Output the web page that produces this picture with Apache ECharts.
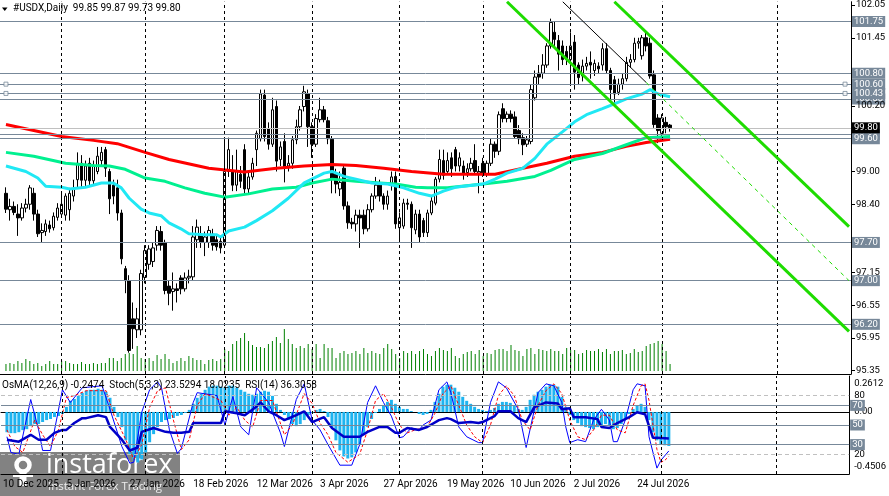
<!DOCTYPE html>
<html>
<head>
<meta charset="utf-8">
<script src="https://cdn.jsdelivr.net/npm/echarts@6.0.0/dist/echarts.min.js"></script>
<style>
html,body{margin:0;padding:0;background:#fff;}
#chart{width:889px;height:496px;}
</style>
</head>
<body>
<div id="chart"></div>
<script>
// ---------------- DATA (bar index i = 0..167) ----------------
const open = [98.60,98.30,98.36,98.22,98.15,98.33,98.40,98.60,98.22,97.88,
97.90,98.02,97.97,98.16,98.22,98.20,98.30,98.55,98.85,99.15,
98.84,99.15,98.83,99.00,99.20,99.40,99.00,98.75,98.70,98.24,
97.22,97.00,96.30,96.10,96.10,97.06,97.30,97.35,97.65,97.90,
97.70,96.90,96.80,96.85,97.05,96.85,97.05,97.07,97.75,97.85,
97.70,97.70,97.85,97.75,97.72,97.65,99.00,99.00,98.75,98.95,
99.40,98.68,98.90,99.40,99.60,100.40,99.78,99.50,100.19,99.22,
99.55,99.10,99.15,99.58,99.82,100.19,100.42,99.82,99.50,99.95,
100.13,99.93,99.59,98.95,98.68,99.06,98.37,98.07,98.04,98.20,
98.20,97.95,98.30,98.55,98.75,98.55,98.40,98.75,98.91,97.97,
98.00,98.42,98.40,97.93,98.22,98.10,97.88,98.24,98.42,98.86,
99.20,99.00,99.25,99.40,99.10,99.10,98.98,99.05,99.20,98.97,
99.15,98.95,99.15,99.50,99.37,100.15,99.97,100.05,100.00,99.75,
99.62,99.50,99.55,100.35,100.80,100.80,100.95,101.30,101.55,101.40,
101.30,101.20,101.05,101.37,100.95,100.75,100.93,101.00,100.85,100.93,
100.95,101.25,100.85,100.68,100.45,100.60,100.70,101.00,101.05,101.35,
101.12,101.45,101.35,100.77,99.98,99.70,99.90,99.85];
const high = [98.71,98.50,98.45,98.40,98.42,98.50,98.75,98.70,98.30,98.05,
98.12,98.10,98.25,98.42,98.62,98.60,98.70,98.85,99.35,99.30,
99.20,99.25,99.20,99.45,99.45,99.45,99.05,98.85,98.85,98.30,
97.27,97.10,96.60,96.50,97.20,97.65,97.65,97.70,98.00,98.00,
97.75,97.00,97.15,96.95,97.10,97.15,97.20,98.00,98.12,98.00,
97.90,98.00,97.95,97.85,97.80,99.60,99.62,99.30,99.40,99.10,
99.50,99.00,99.25,99.75,100.50,100.50,99.90,100.35,100.30,99.55,
99.70,99.30,99.65,99.95,100.20,100.57,100.50,99.90,100.05,100.35,
100.20,100.00,99.65,99.05,99.00,99.10,98.45,98.15,98.30,98.30,
98.30,98.40,98.60,98.90,98.85,98.60,98.65,99.00,99.00,98.25,
98.50,98.50,98.45,98.30,98.30,98.15,98.30,98.55,98.90,99.40,
99.40,99.35,99.35,99.45,99.35,99.20,99.15,99.25,99.50,99.10,
99.25,99.20,99.60,99.55,100.10,100.25,100.10,100.12,100.10,99.85,
99.70,99.65,100.60,100.85,100.95,101.15,101.35,101.80,101.75,101.50,
101.40,101.30,101.55,101.50,101.00,101.05,101.10,101.20,101.05,101.00,
101.35,101.35,100.90,100.75,100.70,100.80,101.10,101.15,101.45,101.45,
101.50,101.55,101.45,100.85,100.05,100.05,100.00,99.87];
const low = [98.24,98.10,98.20,97.82,98.10,98.25,98.30,98.10,97.80,97.70,
97.82,97.88,97.92,98.10,98.15,98.10,98.10,98.45,98.70,98.70,
98.72,98.72,98.75,98.95,99.10,98.90,98.22,98.40,98.10,97.30,
96.77,95.68,95.75,95.95,96.00,96.95,97.20,97.25,97.55,97.55,
96.75,96.55,96.45,96.60,96.75,96.80,96.95,97.00,97.60,97.60,
97.45,97.60,97.55,97.55,97.50,97.60,98.90,98.64,98.64,98.70,
98.60,98.60,98.85,99.10,99.55,99.55,99.40,99.45,99.00,99.10,
98.80,99.00,99.05,99.50,99.75,100.10,99.45,99.25,99.45,99.90,
99.90,99.50,98.60,98.60,98.55,98.30,97.95,97.95,97.90,97.60,
97.85,97.90,98.25,98.50,98.45,98.30,98.30,98.65,97.95,97.70,
97.95,98.30,97.60,97.85,97.70,97.80,97.80,98.20,98.38,98.80,
98.85,98.95,98.90,99.00,99.00,98.85,98.90,99.00,98.95,98.60,
98.90,98.90,99.10,99.25,99.30,99.90,99.90,99.90,99.60,99.50,
99.30,99.45,99.50,100.30,100.60,100.70,100.90,101.25,101.30,100.85,
100.95,100.95,100.60,100.50,100.60,100.65,100.85,100.70,100.75,100.80,
100.85,100.80,100.28,100.25,100.40,100.50,100.65,100.90,101.00,101.25,
101.05,101.20,100.70,99.80,99.52,99.60,99.70,99.73];
const close = [98.31,98.36,98.25,98.15,98.33,98.40,98.70,98.22,97.86,97.92,
98.04,97.95,98.18,98.33,98.40,98.55,98.60,98.67,99.15,98.84,
99.10,98.83,99.10,99.28,99.35,99.06,98.50,98.55,98.24,97.40,
97.00,95.72,96.12,96.30,97.13,97.55,97.58,97.60,97.92,97.65,
96.82,96.77,96.85,96.82,96.85,97.05,97.08,97.80,97.98,97.70,
97.80,97.92,97.65,97.62,97.60,99.00,99.40,98.75,99.00,98.82,
98.68,98.90,99.15,99.70,100.42,99.64,99.50,100.13,99.19,99.45,
99.06,99.15,99.58,99.82,100.13,100.46,99.82,99.50,99.97,100.13,
99.95,99.60,98.86,98.77,98.80,98.37,98.06,98.04,98.20,98.15,
97.95,98.30,98.55,98.75,98.55,98.40,98.55,98.90,98.04,98.15,
98.42,98.40,97.97,98.22,97.80,97.88,98.24,98.46,98.86,99.22,
98.93,99.20,99.05,99.10,99.25,98.95,99.05,99.15,99.00,99.00,
98.95,99.15,99.50,99.37,100.04,99.97,100.05,99.97,99.64,99.60,
99.49,99.58,100.50,100.73,100.73,100.95,101.30,101.73,101.42,101.15,
101.05,101.05,101.30,100.82,100.72,100.93,100.98,100.95,100.98,100.88,
101.25,100.85,100.50,100.42,100.60,100.70,101.00,101.05,101.35,101.38,
101.45,101.30,100.75,99.86,99.75,99.98,99.82,99.80];
const volume = [7,8,7,10,8,12,10,7,8,5,
7,10,7,7,10,10,8,7,7,9,
7,7,8,7,8,8,13,13,10,13,
17,18,17,25,13,12,13,10,16,12,
17,12,8,10,13,10,15,13,11,11,
7,11,12,10,12,22,20,27,30,33,
38,30,26,24,24,23,27,30,34,28,
42,32,27,23,25,23,27,22,27,13,
27,23,23,13,18,20,17,18,20,17,
23,18,20,18,17,23,27,22,17,13,
20,18,20,17,20,22,17,15,20,23,
21,20,23,15,13,17,19,20,17,21,
15,18,17,21,22,22,20,26,21,20,
15,22,23,17,22,21,20,22,20,20,
17,23,21,21,17,18,21,20,20,22,
19,22,17,20,20,21,17,18,22,19,
20,25,27,28,30,27,20,7];
const osma = [-0.147,-0.154,-0.154,-0.147,-0.132,-0.125,-0.103,-0.088,-0.088,-0.073,
-0.059,-0.051,-0.037,-0.029,-0.015,0.037,0.081,0.095,0.117,0.139,
0.154,0.161,0.161,0.169,0.161,0.147,0.103,0.037,-0.037,-0.110,
-0.206,-0.308,-0.352,-0.367,-0.345,-0.294,-0.220,-0.161,-0.110,-0.073,
-0.059,-0.051,-0.044,-0.029,-0.022,-0.007,0.015,0.059,0.103,0.132,
0.161,0.184,0.191,0.191,0.184,0.176,0.191,0.191,0.176,0.161,
0.147,0.132,0.125,0.132,0.147,0.154,0.147,0.117,0.059,0.015,
-0.022,-0.059,-0.088,-0.103,-0.088,-0.059,-0.022,-0.007,0.015,0.022,
0.007,-0.037,-0.110,-0.206,-0.279,-0.323,-0.338,-0.330,-0.294,-0.235,
-0.161,-0.110,-0.051,-0.007,0.022,0.051,0.073,0.088,0.059,0.037,
0.022,0.022,0.007,0.000,-0.015,-0.022,-0.015,0.015,0.073,0.132,
0.184,0.198,0.198,0.176,0.147,0.110,0.081,0.059,0.037,0.022,
0.015,0.007,0.015,0.029,0.059,0.073,0.073,0.066,0.044,0.022,
0.015,0.037,0.088,0.125,0.147,0.161,0.184,0.198,0.198,0.184,
0.110,0.037,-0.022,-0.059,-0.081,-0.103,-0.110,-0.117,-0.125,-0.110,
-0.095,-0.088,-0.103,-0.125,-0.117,-0.088,-0.051,-0.015,0.022,0.044,
0.059,0.037,-0.059,-0.147,-0.206,-0.235,-0.242,-0.247];

// moving averages read at points [bar, value]
const maRed = [[0,99.86],[14,99.64],[22,99.57],[28,99.51],[35,99.35],[41,99.22],[51,99.06],[60,98.99],[68,99.06],[75,99.10],[82,99.13],[88,99.11],[95,99.06],[102,99.00],[110,98.95],[123,98.95],[130,99.06],[136,99.15],[143,99.28],[150,99.35],[156,99.46],[161,99.53],[167,99.59]];
const maGreen = [[0,99.35],[7,99.28],[15,99.15],[22,99.11],[26,99.10],[30,99.04],[35,98.88],[40,98.82],[45,98.70],[50,98.60],[55,98.53],[61,98.59],[67,98.68],[73,98.71],[77,98.79],[82,98.86],[88,98.82],[94,98.79],[98,98.77],[103,98.71],[106,98.70],[111,98.70],[120,98.77],[126,98.82],[133,98.91],[137,99.02],[143,99.22],[150,99.33],[156,99.49],[161,99.62],[167,99.64]];
const maCyan = [[0,99.10],[5,99.00],[8,98.88],[10,98.73],[14,98.71],[16,98.68],[20,98.71],[24,98.79],[27,98.79],[29,98.70],[31,98.51],[34,98.31],[36,98.24],[39,98.19],[41,98.06],[44,97.95],[46,97.86],[50,97.84],[53,97.84],[54,97.80],[56,97.91],[60,97.98],[63,98.10],[67,98.28],[71,98.51],[75,98.79],[80,98.97],[82,99.00],[85,98.91],[88,98.86],[92,98.79],[96,98.77],[100,98.70],[104,98.60],[107,98.55],[110,98.64],[113,98.71],[120,98.77],[123,98.86],[126,98.97],[130,99.06],[133,99.24],[136,99.50],[140,99.73],[143,99.91],[146,100.04],[150,100.15],[153,100.24],[156,100.33],[160,100.42],[162,100.50],[164,100.42],[167,100.37]];

const stochMain = [[0,38],[1,22],[3,20],[6,76],[8,45],[9,24],[11,24],[14,86],[16,73],[19,88],[24,90],[26,66],[29,28],[31,11],[32,12],[34,63],[36,86],[38,94],[39,88],[41,45],[43,21],[44,26],[47,73],[48,83],[53,80],[55,50],[57,79],[59,48],[61,40],[63,88],[66,73],[69,42],[70,28],[73,76],[75,92],[77,55],[79,45],[81,30],[84,9],[87,9],[89,30],[91,73],[93,90],[95,73],[97,59],[99,37],[100,38],[102,47],[104,45],[105,50],[107,55],[109,86],[111,94],[112,83],[114,48],[116,38],[119,32],[120,32],[122,73],[124,94],[126,88],[129,66],[131,27],[134,83],[136,92],[138,90],[140,73],[141,48],[142,32],[144,35],[146,33],[148,55],[150,66],[152,55],[153,33],[154,33],[156,55],[158,86],[159,92],[161,90],[162,38],[164,6],[165,14],[167,23.53]];
const stochSignal = [[0,45],[2,28],[4,22],[7,55],[9,40],[11,28],[13,45],[15,78],[17,80],[20,85],[25,85],[27,60],[30,35],[32,15],[34,30],[36,68],[38,85],[40,88],[42,55],[44,25],[46,35],[48,70],[50,82],[54,75],[56,60],[58,68],[60,55],[62,48],[64,75],[67,75],[70,40],[72,50],[75,82],[77,72],[79,52],[81,40],[83,22],[86,12],[89,20],[91,45],[93,75],[95,82],[97,68],[99,50],[101,42],[103,45],[106,48],[108,62],[110,82],[112,90],[114,70],[116,50],[118,38],[120,32],[122,50],[124,80],[126,90],[128,80],[130,55],[132,45],[134,70],[136,85],[138,92],[140,82],[142,55],[144,38],[146,35],[148,45],[150,60],[152,60],[154,45],[156,42],[158,70],[160,90],[161,92],[162,75],[163,50],[164,25],[165,12],[166,14],[167,18.02]];
const rsi = [[0,35],[3,33],[6,40],[8,35],[10,35],[12,42],[14,45],[15,45],[17,52],[19,57],[20,57],[23,60],[25,58],[26,48],[29,35],[31,24],[33,27],[34,43],[37,47],[40,43],[42,42],[44,42],[46,43],[47,52],[49,52],[54,52],[55,64],[58,62],[60,60],[63,69],[64,73],[66,64],[68,60],[70,55],[73,60],[75,64],[77,53],[80,58],[82,47],[85,38],[89,38],[91,43],[94,48],[96,48],[98,42],[99,42],[101,47],[104,45],[106,48],[109,55],[111,57],[112,56],[114,52],[117,53],[119,52],[120,53],[123,59],[124,64],[127,64],[129,57],[131,53],[133,68],[136,73],[139,72],[140,66],[142,67],[143,58],[146,58],[149,56],[150,48],[152,47],[154,52],[157,58],[159,63],[161,61],[163,37],[164,37],[167,36.31]];

// axis texts and levels
const priceTicks = [102.05,101.45,100.20,99.00,98.40,97.15,96.55,95.95,95.35];
const levelValues = [101.75,100.80,100.60,100.33,100.43,99.68,99.60,97.70,97.00,96.20];
const bidPrice = 99.80;
const anchorLevels = [100.60,100.43];
const dateSlots = [0,16,32,48,64,80,96,112,128,144,160];
const dateTexts = ['10 Dec 2025','5 Jan 2026','27 Jan 2026','18 Feb 2026','12 Mar 2026','3 Apr 2026','27 Apr 2026','19 May 2026','10 Jun 2026','2 Jul 2026','24 Jul 2026'];
const monthSlots = [15,36,56,78,100,121,143,166,195];
const rsiLevels = [70,50,30];
const stochLevels = [80,20];
// drawn trend lines [slot, price]
const trendUpper = [[154,102.11],[213,97.99]];
const trendMid = [[127,102.11],[213,96.07]];
const trendThin = [[141,102.11],[162,100.63]];
const trendDash = [[162,100.63],[213,97.00]];

// ---------------- BUILD ----------------
const FONT = "Roboto,'Liberation Sans',Arial,sans-serif";
const FS = 9.5;
const N = 214;             // category slots; bar i sits in slot i+1
const cats = Array.from({length:N},(_,j)=>String(j));
const dateMap = {}; dateSlots.forEach((s,k)=>dateMap[s]=dateTexts[k]);
const slot = i => i+1;

const candleData = [['-','-','-','-']].concat(open.map((o,i)=>[o,close[i],low[i],high[i]]));
const volData = ['-'].concat(volume);
const osmaData = ['-'].concat(osma);
const shift = arr => arr.map(p=>[slot(p[0]),p[1]]);

const SLATE = '#778899';
const boxLabel = (txt,bg) => ({show:true,position:'end',formatter:txt,backgroundColor:bg,color:'#fff',padding:[1,2,0,2],distance:1,fontSize:FS,fontFamily:FONT});

const mainMarks = [];
monthSlots.forEach(s=>mainMarks.push({xAxis:s,lineStyle:{color:'#000',type:[3,3],width:1},label:{show:false}}));
levelValues.forEach(v=>mainMarks.push({yAxis:v,lineStyle:{color:SLATE,type:'solid',width:1},label:boxLabel(v.toFixed(2),SLATE)}));
mainMarks.push({yAxis:bidPrice,lineStyle:{color:'#C0C0C0',type:'solid',width:1},label:boxLabel(bidPrice.toFixed(2),'#000')});

const indMarks = monthSlots.map(s=>({xAxis:s,lineStyle:{color:'#000',type:[3,3],width:1},label:{show:false}}));

const anchors = [];
anchorLevels.forEach(v=>{anchors.push([1,v]);anchors.push([212,v]);});

const lineSeries = (name,data,color,width,xi,yi,extra) => Object.assign({
  name,type:'line',data,xAxisIndex:xi,yAxisIndex:yi,symbol:'none',showSymbol:false,
  lineStyle:{color,width},itemStyle:{color},animation:false,silent:true,z:4
},extra||{});

const chart = echarts.init(document.getElementById('chart'),null,{renderer:'canvas'});
chart.setOption({
  animation:false,
  backgroundColor:'#ffffff',
  title:[
    {text:'#USDX,Daily  99.85 99.87 99.73 99.80',left:13,top:3,padding:0,
     textStyle:{fontSize:FS+0.5,fontWeight:'normal',fontFamily:FONT,color:'#000'}},
    {text:'OsMA(12,26,9) -0.2474  Stoch(5,3,3) 23.5294 18.0235  RSI(14) 36.3058',left:2,top:380,padding:0,
     textStyle:{fontSize:FS+0.5,fontWeight:'normal',fontFamily:FONT,color:'#000'}}
  ],
  grid:[
    {left:-4,top:0,width:855,height:374},
    {left:-4,top:271,width:855,height:100},
    {left:-4,top:376,width:855,height:98}
  ],
  xAxis:[
    {type:'category',gridIndex:0,data:cats,boundaryGap:true,axisLine:{show:true,lineStyle:{color:'#000'}},axisTick:{show:false},axisLabel:{show:false},splitLine:{show:false}},
    {type:'category',gridIndex:1,data:cats,boundaryGap:true,show:false},
    {type:'category',gridIndex:2,data:cats,boundaryGap:true,axisLine:{show:true,lineStyle:{color:'#000'}},axisTick:{show:false},splitLine:{show:false},
     axisLabel:{interval:(idx)=>dateMap[idx]!==undefined,formatter:(val)=>dateMap[+val]||'',align:'left',margin:5,color:'#000',fontSize:FS+0.5,fontFamily:FONT}},
    {type:'category',gridIndex:2,data:cats,boundaryGap:true,position:'top',axisLine:{show:true,lineStyle:{color:'#000'}},axisTick:{show:false},axisLabel:{show:false}}
  ],
  yAxis:[
    {type:'value',gridIndex:0,position:'right',min:95.29,max:102.11,scale:true,z:10,
     axisLine:{show:true,lineStyle:{color:'#000'}},
     axisTick:{show:true,customValues:priceTicks,length:4,lineStyle:{color:'#000'}},
     axisLabel:{customValues:priceTicks,formatter:v=>v.toFixed(2),margin:5,color:'#000',fontSize:FS,fontFamily:FONT,padding:[2,0,0,0]},
     splitLine:{show:false}},
    {type:'value',gridIndex:1,min:0,max:100,show:false},
    {type:'value',gridIndex:2,position:'right',min:-0.4506,max:0.2612,
     axisLine:{show:true,lineStyle:{color:'#000'}},
     axisTick:{show:false},
     axisLabel:{customValues:[0.2031,0,-0.3998],formatter:v=>v>0.1?'0.2612':(v<-0.1?'-0.4506':'0.00'),margin:5,color:'#000',fontSize:FS,fontFamily:FONT},
     splitLine:{show:false}},
    {type:'value',gridIndex:2,position:'right',min:0,max:100,
     axisLine:{show:false},axisTick:{show:false},
     axisLabel:{customValues:stochLevels,formatter:v=>String(v),margin:5,color:'#000',fontSize:FS,fontFamily:FONT},
     splitLine:{show:false}}
  ],
  series:[
    {name:'volume',type:'bar',xAxisIndex:1,yAxisIndex:1,data:volData,barWidth:1,itemStyle:{color:'#008000'},silent:true,animation:false,z:1},
    {name:'USDX',type:'candlestick',xAxisIndex:0,yAxisIndex:0,data:candleData,barWidth:3,
     itemStyle:{color:'#ffffff',color0:'#000000',borderColor:'#000000',borderColor0:'#000000',borderWidth:1},
     silent:true,animation:false,z:3,
     markLine:{symbol:['none','none'],silent:true,animation:false,data:mainMarks}},
    lineSeries('ma200',shift(maRed),'#ff0000',3,0,0),
    lineSeries('ma144',shift(maGreen),'#00f090',3,0,0),
    lineSeries('ma50',shift(maCyan),'#20e8f4',3,0,0),
    lineSeries('trendUpper',trendUpper,'#1edc00',3,0,0,{z:5}),
    lineSeries('trendMid',trendMid,'#1edc00',3,0,0,{z:5}),
    lineSeries('trendThin',trendThin,'#000000',1,0,0,{z:5}),
    lineSeries('trendDash',trendDash,'#1edc00',1,0,0,{z:5,lineStyle:{color:'#1edc00',width:1,type:[4,4]}}),
    {name:'anchors',type:'scatter',xAxisIndex:0,yAxisIndex:0,data:anchors,symbol:'rect',symbolSize:4,
     itemStyle:{color:'#ffffff',borderColor:SLATE,borderWidth:1},silent:true,animation:false,z:6},
    {name:'OsMA',type:'bar',xAxisIndex:2,yAxisIndex:2,data:osmaData,barWidth:3,itemStyle:{color:'#1eb4f0'},silent:true,animation:false,z:2,
     markLine:{symbol:['none','none'],silent:true,animation:false,data:indMarks}},
    lineSeries('stoch',shift(stochMain),'#0000ff',1,2,3,{
     markLine:{symbol:['none','none'],silent:true,animation:false,
       data:stochLevels.map(v=>({yAxis:v,lineStyle:{color:'#c0c0c0',type:[4,3],width:1},label:{show:false}}))}}),
    lineSeries('signal',shift(stochSignal),'#ff0000',1,2,3,{lineStyle:{color:'#ff0000',width:1,type:[3,2]}}),
    lineSeries('rsi',shift(rsi),'#0000c8',2.5,2,3,{
     markLine:{symbol:['none','none'],silent:true,animation:false,
       data:rsiLevels.map(v=>({yAxis:v,lineStyle:{color:SLATE,type:'solid',width:1},label:boxLabel(String(v),SLATE)}))}})
  ],
  graphic:[
    {type:'polygon',shape:{points:[[2,7.5],[7.5,7.5],[4.75,11]]},style:{fill:'#000'},z:10},
    {type:'group',z:100,children:[
      {type:'rect',shape:{x:0,y:452,width:180,height:44},style:{fill:'rgba(95,95,95,0.78)'}},
      {type:'circle',shape:{cx:23,cy:465,r:6.5},style:{fill:'none',stroke:'#fff',lineWidth:4.5}},
      {type:'rect',shape:{x:19.5,y:470,width:7,height:16},style:{fill:'#fff'}},
      {type:'rect',shape:{x:13,y:474,width:20,height:3},style:{fill:'#fff'}},
      {type:'text',x:46,y:452,style:{text:'instaforex',fill:'#fff',font:'27px "Open Sans", Lato, sans-serif'}},
      {type:'text',x:48,y:481,style:{text:'Instant Forex Trading',fill:'rgba(255,255,255,0.85)',font:'11.5px "Open Sans", Lato, sans-serif'}}
    ]}
  ]
});
</script>
</body>
</html>
